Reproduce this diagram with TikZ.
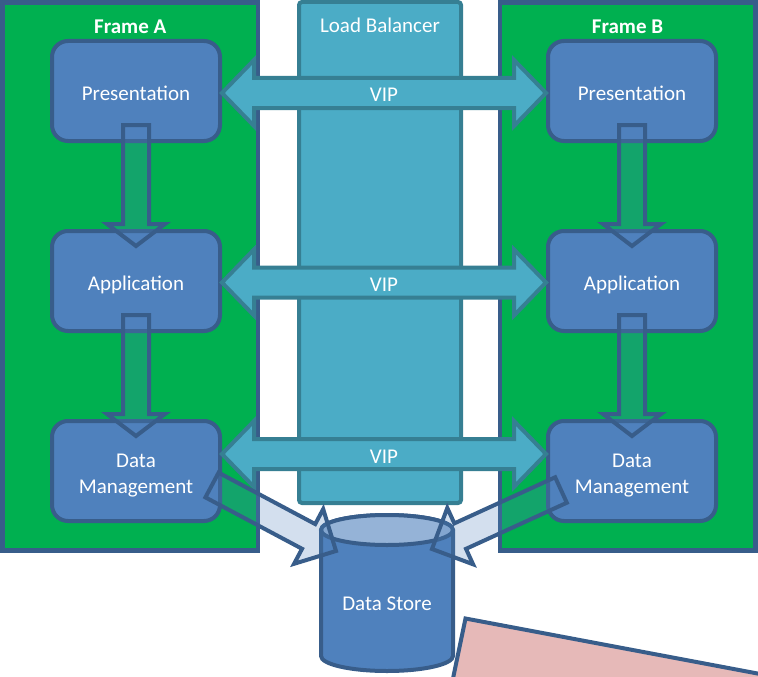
\documentclass[tikz,border=0pt]{standalone}
\usepackage{fontspec}
\setmainfont{Carlito}
\usetikzlibrary{calc}
\usetikzlibrary{positioning}

\definecolor{framegreen}{HTML}{00B050}
\definecolor{boxblue}{HTML}{4F81BD}
\definecolor{edgeblue}{HTML}{385D8A}
\definecolor{lbcyan}{HTML}{4BACC6}
\definecolor{lbedge}{HTML}{367F93}
\definecolor{storetop}{HTML}{95B3D7}
\definecolor{notepink}{HTML}{E6B9B8}

\tikzset{
  slidefont/.style={font=\fontsize{21}{26}\selectfont, text=white, text height=18pt, text depth=0pt},
  tierframe/.style={draw=edgeblue, fill=framegreen, line width=4.5pt,
    minimum width=255.5pt, minimum height=548pt},
  framelabel/.style={slidefont, font=\bfseries\fontsize{21}{26}\selectfont},
  tier/.style={slidefont, draw=edgeblue, fill=boxblue, line width=4pt,
    rounded corners=16pt, minimum width=168pt, minimum height=100pt, align=center},
  twoline/.style={text height=44pt},
  balancer/.style={draw=lbedge, fill=lbcyan, line width=4pt, rounded corners=3pt,
    minimum width=162pt, minimum height=501pt},
  vip/.style={draw=lbedge, fill=lbcyan, line width=4pt},
  viplabel/.style={slidefont},
  flow/.style={draw=edgeblue, line width=4pt, fill=boxblue, fill opacity=0.25},
  datastore/.style={draw=edgeblue, line width=4pt, fill=boxblue},
}

% block arrow: [style]{from}{to}{shaft half width}{head half width}{head length}
\newcommand{\blockarrow}[6][]{%
  \coordinate (ba-h) at ($(#3)!#6!(#2)$);
  \draw[#1] ($(#2)!#4!90:(#3)$) -- ($(ba-h)!#4!90:(#3)$) -- ($(ba-h)!#5!90:(#3)$)
    -- (#3) -- ($(ba-h)!#5!-90:(#3)$) -- ($(ba-h)!#4!-90:(#3)$)
    -- ($(#2)!#4!-90:(#3)$) -- cycle;
}

% double arrow through the balancer: {from}{to}{name}
\newcommand{\viparrow}[3]{%
  \coordinate (va-l) at ($(#1)!32pt!(#2)$);
  \coordinate (va-r) at ($(#2)!32pt!(#1)$);
  \draw[vip] (#1) -- ($(va-l)!33pt!90:(#2)$) -- ($(va-l)!15pt!90:(#2)$)
    -- ($(va-r)!15pt!-90:(#1)$) -- ($(va-r)!33pt!-90:(#1)$) -- (#2)
    -- ($(va-r)!33pt!90:(#1)$) -- ($(va-r)!15pt!90:(#1)$)
    -- ($(va-l)!15pt!-90:(#2)$) -- ($(va-l)!33pt!-90:(#2)$) -- cycle;
  \path (#1) -- node[viplabel] (#3) {VIP} (#2);
}

\begin{document}
\begin{tikzpicture}[x=1pt, y=1pt]
  \useasboundingbox (0,0) rectangle (758,-677);
  \clip (0,0) rectangle (758,-677);

  % frames and balancer
  \node[tierframe] (frameA) at (130.25,-276.5) {};
  \node[tierframe] (frameB) at (627.5,-276.5) {};
  \node[framelabel] (labelA) at ([yshift=-24pt]frameA.north) {Frame A};
  \node[framelabel] (labelB) at ([yshift=-24pt]frameB.north) {Frame B};
  \node[balancer] (lb) at (380,-252.5) {};
  \node[slidefont] (lbLabel) at (380,-24) {Load Balancer};

  % tiers
  \node[tier] (presA) at (136,-91) {Presentation};
  \node[tier, below=86pt of presA] (appA) {Application};
  \node[tier, twoline, below=86pt of appA] (dmA) {Data\\Management};
  \node[tier, right=324pt of presA] (presB) {Presentation};
  \node[tier, right=324pt of appA] (appB) {Application};
  \node[tier, twoline, right=324pt of dmA] (dmB) {Data\\Management};

  % VIP links
  \coordinate (v1a) at ([yshift=-2pt]presA.east);
  \coordinate (v1b) at ([yshift=-2pt]presB.west);
  \coordinate (v2a) at ([yshift=-1.5pt]appA.east);
  \coordinate (v2b) at ([yshift=-1.5pt]appB.west);
  \coordinate (v3a) at ([yshift=17pt]dmA.east);
  \coordinate (v3b) at ([yshift=17pt]dmB.west);
  \viparrow{v1a}{v1b}{vip1}
  \viparrow{v2a}{v2b}{vip2}
  \viparrow{v3a}{v3b}{vip3}

  % calls down each frame
  \foreach \f in {A,B}{
    \coordinate (d1s) at ([yshift=18pt]pres\f.south);
    \coordinate (d1e) at ([yshift=-17pt]app\f.north);
    \coordinate (d2s) at ([yshift=18pt]app\f.south);
    \coordinate (d2e) at ([yshift=-17pt]dm\f.north);
    \blockarrow[flow]{d1s}{d1e}{13pt}{29pt}{22pt}
    \blockarrow[flow]{d2s}{d2e}{13pt}{29pt}{22pt}
  }

  % data store
  \coordinate (storeTop) at (387,-530);
  \draw[datastore] (321,-530) -- (321,-656) arc[start angle=180, end angle=360, x radius=66, y radius=15]
    -- (453,-530) arc[start angle=0, end angle=180, x radius=66, y radius=15] -- cycle;
  \draw[datastore, fill=storetop] (storeTop) ellipse [x radius=66, y radius=15];
  \node[slidefont] (store) at (387,-601) {Data Store};

  % data management to store
  \coordinate (sA) at ([shift={(-10pt,-14pt)}]dmA.east);
  \coordinate (tA) at ([shift={(-51pt,-21pt)}]storeTop);
  \coordinate (sB) at ([shift={(15pt,-19pt)}]dmB.west);
  \coordinate (tB) at ([shift={(45pt,-19pt)}]storeTop);
  \blockarrow[flow]{sA}{tA}{14pt}{31pt}{31pt}
  \blockarrow[flow]{sB}{tB}{14pt}{31pt}{31pt}

  % note corner
  \draw[draw=edgeblue, fill=notepink, line width=4pt]
    (448.5,-700) -- (465.5,-618.5) -- (800,-681.5) -- (800,-700) -- cycle;
\end{tikzpicture}
\end{document}
